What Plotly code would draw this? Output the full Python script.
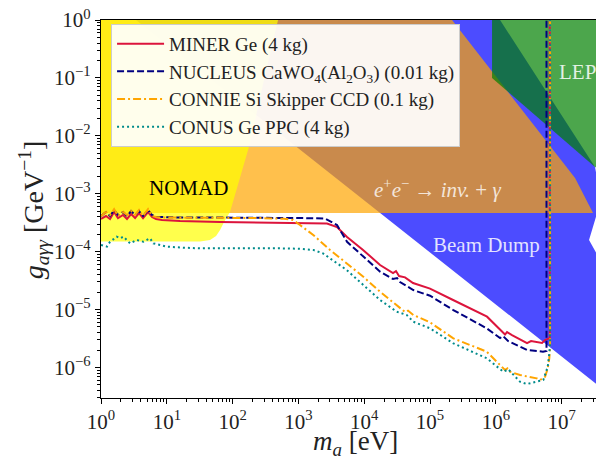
import plotly.graph_objects as go

# ---------------- data (m_a in eV, g in GeV^-1) ----------------
miner_m = [1.0, 1.19, 1.37, 1.58, 1.81, 2.16, 2.48, 2.86, 3.29, 3.78, 4.35, 5.18, 5.96, 6.85, 8.45,
           15.9, 64.4, 261, 1057, 2720, 3860, 5480, 9600, 17400, 27400, 30400, 33800, 41700, 55200,
           1.0e5, 2.24e5, 7.35e5, 1.38e6, 1.48e6, 1.76e6, 2.98e6, 3.43e6, 5.04e6, 5.60e6, 6.0e6,
           6.6e6, 6.6e6]
miner_g = [3.66e-4, 4.12e-4, 3.66e-4, 4.83e-4, 3.80e-4, 4.29e-4, 3.66e-4, 4.46e-4, 3.80e-4, 4.64e-4,
           3.80e-4, 4.83e-4, 3.96e-4, 3.66e-4, 3.52e-4,
           3.38e-4, 3.25e-4, 3.18e-4, 3.12e-4, 3.06e-4, 2.66e-4, 1.79e-4, 1.07e-4, 5.87e-5, 4.27e-5,
           4.62e-5, 3.79e-5, 3.60e-5, 2.87e-5,
           2.30e-5, 1.46e-5, 7.52e-6, 3.70e-6, 4.08e-6, 3.63e-6, 2.64e-6, 2.86e-6, 2.64e-6, 2.97e-6,
           3.09e-6, 3.2e-6, 1.0]

nucleus_m = [1.0, 1.19, 1.37, 1.58, 1.81, 2.16, 2.48, 2.86, 3.29, 3.78, 4.35, 5.18, 5.96, 6.85, 8.45,
             15.9, 64.4, 261, 1057, 2540, 3860, 5480, 9690, 17400, 27400, 31500, 35000, 55700,
             1.0e5, 2.26e5, 7.27e5, 1.16e6, 1.29e6, 1.53e6, 2.98e6, 5.21e6, 5.89e6, 5.89e6]
nucleus_g = [4.12e-4, 4.83e-4, 4.12e-4, 5.23e-4, 4.29e-4, 4.83e-4, 4.12e-4, 5.02e-4, 4.29e-4, 5.02e-4,
             4.12e-4, 5.23e-4, 4.29e-4, 3.96e-4, 3.96e-4,
             3.88e-4, 3.88e-4, 3.88e-4, 3.80e-4, 3.73e-4, 2.88e-4, 1.48e-4, 8.17e-5, 4.50e-5, 3.37e-5,
             3.50e-5, 2.99e-5, 2.17e-5,
             1.73e-5, 9.80e-6, 4.73e-6, 3.22e-6, 3.48e-6, 2.86e-6, 2.00e-6, 1.87e-6, 1.92e-6, 1.0]

connie_m = [1.0, 1.19, 1.37, 1.58, 1.81, 2.16, 2.48, 2.86, 3.29, 3.78, 4.35, 5.18, 5.96, 6.85, 8.45,
            15.9, 64.4, 261, 600, 828, 1057, 1680, 3020, 5420, 9690, 17400, 31200, 41700, 46300,
            55700, 1.0e5, 2.26e5, 7.27e5, 1.03e6, 1.38e6, 1.50e6, 1.64e6, 2.33e6, 4.19e6, 4.70e6,
            5.60e6, 6.15e6, 6.50e6, 6.67e6, 6.67e6]
connie_g = [4.12e-4, 4.83e-4, 4.29e-4, 5.44e-4, 4.12e-4, 4.83e-4, 4.29e-4, 5.02e-4, 4.29e-4, 5.23e-4,
            4.12e-4, 5.44e-4, 4.12e-4, 3.96e-4, 3.88e-4,
            3.88e-4, 3.80e-4, 3.80e-4, 3.70e-4, 3.52e-4, 2.88e-4, 1.94e-4, 1.07e-4, 6.28e-5, 3.68e-5,
            2.03e-5, 1.20e-5, 9.06e-6, 9.6e-6,
            8.04e-6, 6.01e-6, 3.18e-6, 1.87e-6, 1.25e-6, 9.02e-7, 9.64e-7, 8.43e-7, 7.39e-7, 6.48e-7,
            6.06e-7, 6.90e-7, 9.64e-7, 1.45e-6, 2.2e-6, 1.0]

conus_m = [1.0, 1.23, 1.37, 1.73, 1.94, 2.2, 2.76, 3.49, 4.39, 5.55, 6.24, 7.88, 9.96, 17.8, 32,
           525, 1057, 1680, 2360, 3020, 5420, 9690, 17400, 31200, 44300, 55700, 1.0e5, 2.26e5,
           7.27e5, 1.30e6, 1.55e6, 2.33e6, 2.95e6, 5.27e6, 6.15e6, 6.50e6, 6.67e6, 6.67e6]
conus_g = [1.30e-4, 1.22e-4, 1.48e-4, 1.81e-4, 1.70e-4, 1.81e-4, 1.39e-4, 1.59e-4, 1.48e-4, 1.70e-4,
           1.39e-4, 1.30e-4, 1.22e-4, 1.17e-4, 1.14e-4,
           1.14e-4, 1.12e-4, 1.07e-4, 9.35e-5, 7.66e-5, 4.81e-5, 2.65e-5, 1.46e-5, 9.16e-6, 8.04e-6,
           6.16e-6, 4.73e-6, 2.61e-6,
           1.44e-6, 8.43e-7, 9.27e-7, 5.66e-7, 5.16e-7, 6.06e-7, 1.03e-6, 1.75e-6, 2.5e-6, 1.0]

# excluded regions (polygon vertices)
beamdump_m = [3.40, 1.16e6, 3.22e7, 3.97e7, 2.61e7, 4.41e7, 1.0e8, 1.0e8, 4.41e7]
beamdump_g = [1.0, 1.0, 2.89e-3, 7.78e-4, 1.59e-4, 5.42e-5, 5.42e-5, 1.95e-7, 4.07e-7]

ee_m = [0.3, 0.3, 3.0e7, 1.60e7, 2.16e5]
ee_g = [1.0, 4.64e-4, 4.64e-4, 1.87e-3, 1.0]

lep_m = [8.76e5, 8.76e5, 3.22e7, 4.41e7, 1.0e8, 1.0e8]
lep_g = [1.0, 0.1, 2.89e-3, 2.37e-3, 2.0e-3, 1.0]

nomad_m = [0.3, 0.3, 32.0, 45.4, 56.0, 64.4, 74.0, 91.3, 129, 184, 300, 490]
nomad_g = [1.0, 1.49e-4, 1.49e-4, 1.59e-4, 1.86e-4, 2.36e-4, 3.25e-4, 4.83e-4, 1.87e-3, 7.51e-3, 0.092, 1.0]

x_tickvals = [1e0, 1e1, 1e2, 1e3, 1e4, 1e5, 1e6, 1e7]
x_ticktext = ["10<sup>0</sup>", "10<sup>1</sup>", "10<sup>2</sup>", "10<sup>3</sup>",
              "10<sup>4</sup>", "10<sup>5</sup>", "10<sup>6</sup>", "10<sup>7</sup>"]
y_tickvals = [1e-6, 1e-5, 1e-4, 1e-3, 1e-2, 1e-1, 1e0]
y_ticktext = ["10<sup>−6</sup>", "10<sup>−5</sup>", "10<sup>−4</sup>", "10<sup>−3</sup>",
              "10<sup>−2</sup>", "10<sup>−1</sup>", "10<sup>0</sup>"]

FONT = "Liberation Serif"

fig = go.Figure()

def region(xs, ys, color):
    fig.add_trace(go.Scatter(x=xs, y=ys, mode="lines", fill="toself", fillcolor=color,
                             line=dict(width=0), showlegend=False, hoverinfo="skip"))

region(beamdump_m, beamdump_g, "rgba(0,0,255,0.7)")
region(ee_m, ee_g, "rgba(255,165,0,0.7)")
region(lep_m, lep_g, "rgba(0,128,0,0.7)")
region(nomad_m, nomad_g, "rgba(255,255,0,0.7)")

fig.add_trace(go.Scatter(x=miner_m, y=miner_g, mode="lines", name="MINER Ge (4 kg)",
                         line=dict(color="crimson", width=2)))
fig.add_trace(go.Scatter(x=nucleus_m, y=nucleus_g, mode="lines",
                         name="NUCLEUS CaWO<sub>4</sub>(Al<sub>2</sub>O<sub>3</sub>) (0.01 kg)",
                         line=dict(color="navy", width=2, dash="7px,3px")))
fig.add_trace(go.Scatter(x=connie_m, y=connie_g, mode="lines", name="CONNIE Si Skipper CCD (0.1 kg)",
                         line=dict(color="orange", width=2, dash="8px,3px,2px,3px")))
fig.add_trace(go.Scatter(x=conus_m, y=conus_g, mode="lines", name="CONUS Ge PPC (4 kg)",
                         line=dict(color="darkcyan", width=2, dash="2px,3px")))

minor_x = [k * 10**e for e in range(0, 8) for k in range(2, 10)]
minor_y = [k * 10.0**e for e in range(-7, 0) for k in range(2, 10)]

axis_common = dict(showline=True, linecolor="black", linewidth=1.2, mirror=True,
                   ticks="outside", ticklen=5, tickwidth=1.2, tickcolor="black",
                   showgrid=False, zeroline=False, automargin=False, ticklabeloverflow="allow",
                   tickfont=dict(family=FONT, size=21, color="#222"))

fig.update_xaxes(type="log", range=[-0.0005, 7.644], tickmode="array", tickvals=x_tickvals,
                 ticktext=x_ticktext,
                 minor=dict(tickmode="array", tickvals=minor_x, ticks="outside", ticklen=3,
                            tickcolor="black", showgrid=False),
                 **axis_common)
fig.update_yaxes(type="log", range=[-6.528, 0.0005], tickmode="array", tickvals=y_tickvals,
                 ticktext=y_ticktext,
                 minor=dict(tickmode="array", tickvals=minor_y, ticks="outside", ticklen=3,
                            tickcolor="black", showgrid=False),
                 **axis_common)

annots = [
    dict(x=1.322, y=-2.902, text="NOMAD", font=dict(family=FONT, size=21, color="black")),
    dict(x=5.106, y=-2.902,
         text="<i>e</i><sup>+</sup><i>e</i><sup>−</sup> → <i>inv.</i> + <i>γ</i>",
         font=dict(family=FONT, size=21, color="rgba(255,255,255,0.8)")),
    dict(x=5.851, y=-3.886, text="Beam Dump", font=dict(family=FONT, size=21, color="rgba(255,255,255,0.85)")),
    dict(x=7.24, y=-0.898, text="LEP", font=dict(family=FONT, size=21, color="rgba(255,255,255,0.85)")),
]
for a in annots:
    fig.add_annotation(xref="x", yref="y", showarrow=False, xanchor="center", yanchor="middle", **a)

fig.add_annotation(xref="paper", yref="paper", x=0.505, y=-0.119, showarrow=False,
                   xanchor="center", yanchor="middle",
                   text="<i>m<sub>a</sub></i> [eV]", font=dict(family=FONT, size=27, color="#222"))
fig.add_annotation(xref="paper", yref="paper", x=-0.135, y=0.497, showarrow=False, textangle=-90,
                   xanchor="center", yanchor="middle",
                   text="<i>g<sub>aγγ</sub></i> [GeV<sup>−1</sup>]",
                   font=dict(family=FONT, size=28, color="#222"))

# the page body adds an 8px offset, so the figure is sized to end at the window edge
fig.update_layout(
    width=596, height=453,
    margin=dict(l=93, r=0, t=12, b=63, autoexpand=False),
    plot_bgcolor="white", paper_bgcolor="white",
    showlegend=True,
    legend=dict(x=0.02, y=0.99, xanchor="left", yanchor="top", itemwidth=47,
                bgcolor="rgba(255,255,255,0.92)", bordercolor="#cccccc", borderwidth=1,
                font=dict(family=FONT, size=19, color="#222")),
)

fig.write_html("out.html")
